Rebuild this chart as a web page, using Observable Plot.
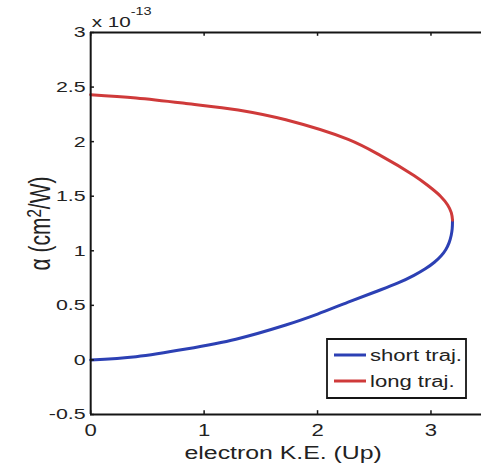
<!DOCTYPE html>
<html>
<head>
<meta charset="utf-8">
<script src="https://cdn.jsdelivr.net/npm/d3@7"></script>
<script src="https://cdn.jsdelivr.net/npm/@observablehq/plot@0.6"></script>
<style>
  html, body { margin: 0; padding: 0; background: #fff; }
  #chart { width: 481px; height: 474px; overflow: hidden; }
  #chart svg path, #chart svg line, #chart svg rect { vector-effect: non-scaling-stroke; }
</style>
</head>
<body>
<div id="chart"></div>
<script>
// Ionization-phase coefficient alpha (x 1e-13 cm^2/W) vs. electron kinetic energy (Up)
const shortKE    = [0, 0.40, 0.84, 1.28, 1.72, 2.00, 2.27, 2.50, 2.71, 2.85, 2.95, 3.03, 3.09, 3.13, 3.16, 3.178, 3.187, 3.19];
const shortAlpha = [0, 0.03, 0.10, 0.19, 0.32, 0.42, 0.53, 0.62, 0.705, 0.775, 0.835, 0.895, 0.955, 1.01, 1.075, 1.14, 1.20, 1.28];
const longKE     = [3.19, 3.179, 3.147, 3.084, 2.97, 2.85, 2.56, 2.27, 1.72, 1.30, 0.84, 0.40, 0];
const longAlpha  = [1.28, 1.35, 1.42, 1.50, 1.60, 1.69, 1.87, 2.02, 2.20, 2.29, 2.35, 2.40, 2.43];

const xTicks = [0, 1, 2, 3];
const yTicks = [-0.5, 0, 0.5, 1, 1.5, 2, 2.5, 3];
const seriesNames = ["short traj.", "long traj."];
const seriesColors = ["#2c40b4", "#cf3a3a"];
const xLabel = "electron K.E. (Up)";
const yLabelParts = ["α (cm", "2", "/W)"];
const exponentBase = "x 10";
const exponent = "-13";

// The figure is drawn narrow and then stretched horizontally.
const S = 1.38, W = 481, H = 474;
const w0 = W / S;
const px = v => v / S;

const shortData = shortKE.map((x, i) => ({x, y: shortAlpha[i]}));
const longData = longKE.map((x, i) => ({x, y: longAlpha[i]}));

const ink = "#151515";
const xLo = 0, xHi = 3.5, yLo = -0.5, yHi = 3;

const frameCenter = (px(90) + w0) / 2;

const chart = Plot.plot({
  width: w0,
  height: H,
  marginLeft: px(90),
  marginRight: 0,
  marginTop: 32,
  marginBottom: 60,
  x: {domain: [xLo, xHi], range: [px(90), px(487)]},
  y: {domain: [yLo, yHi]},
  style: {fontFamily: "'Liberation Sans', Arial, sans-serif", fontSize: "16px", color: "#222", background: "#fff"},
  marks: [
    // curves
    Plot.line(shortData, {x: "x", y: "y", stroke: seriesColors[0], strokeWidth: 3, curve: "catmull-rom"}),
    Plot.line(longData, {x: "x", y: "y", stroke: seriesColors[1], strokeWidth: 3, curve: "catmull-rom"}),
    // box
    Plot.ruleY([yHi], {x1: xLo, x2: xHi, stroke: ink, strokeWidth: 2}),
    Plot.ruleY([yLo], {x1: xLo, x2: xHi, stroke: ink, strokeWidth: 2}),
    Plot.ruleX([xLo], {y1: yLo, y2: yHi, stroke: ink, strokeWidth: 2}),
    // inward tick marks
    Plot.ruleX(xTicks, {y1: yLo, y2: yLo + 0.035, stroke: ink, strokeWidth: 1.5}),
    Plot.ruleX(xTicks, {y1: yHi, y2: yHi - 0.035, stroke: ink, strokeWidth: 1.5}),
    Plot.ruleY(yTicks, {x1: xLo, x2: xLo + 0.035, stroke: ink, strokeWidth: 1.5}),
    // tick labels
    Plot.axisX({ticks: xTicks, tickSize: 0, tickPadding: 10, tickFormat: d => String(d), label: null, fontSize: 16}),
    Plot.axisY({ticks: yTicks, tickSize: 0, tickPadding: px(5), tickFormat: d => String(d), label: null, fontSize: 15.5}),
    // titles
    Plot.text([xLabel], {frameAnchor: "bottom", textAnchor: "middle", dy: 44, dx: px(282.5) - frameCenter, fontSize: 18, fill: "#222"}),
    Plot.text([yLabelParts.join("")], {frameAnchor: "left", textAnchor: "middle", rotate: -90, dx: px(40) - px(90), dy: 0, fontSize: 21, fill: "#222", className: "ytitle"}),
    Plot.text([exponentBase], {frameAnchor: "top-left", textAnchor: "start", lineAnchor: "bottom", dx: px(91) - px(90), dy: 26 - 32, fontSize: 15, fill: "#222"}),
    Plot.text([exponent], {frameAnchor: "top-left", textAnchor: "start", lineAnchor: "bottom", dx: px(130) - px(90), dy: 14 - 32, fontSize: 10.5, fill: "#222"})
  ]
});

// stretch horizontally
chart.setAttribute("viewBox", `0 0 ${w0} ${H}`);
chart.setAttribute("width", W);
chart.setAttribute("height", H);
chart.setAttribute("preserveAspectRatio", "none");
chart.style.width = W + "px";
chart.style.height = H + "px";
chart.style.maxWidth = "none";

const svg = d3.select(chart);

// y title with a raised exponent
const yt = svg.select(".ytitle text");
if (!yt.empty()) {
  yt.text(null);
  yt.append("tspan").text(yLabelParts[0]);
  yt.append("tspan").attr("dy", "-0.45em").attr("font-size", "0.72em").text(yLabelParts[1]);
  yt.append("tspan").attr("dy", "0.32em").text(yLabelParts[2]);
}

// legend box
const lg = svg.append("g").attr("class", "legend").attr("text-anchor", "start");
const bx = px(327), by = 339, bw = px(466) - px(327), bh = 59;
lg.append("rect").attr("x", bx).attr("y", by).attr("width", bw).attr("height", bh)
  .attr("fill", "#fff").attr("stroke", ink).attr("stroke-width", 1.8);
seriesNames.forEach((name, i) => {
  const yy = by + 16 + i * 26;
  lg.append("line").attr("x1", px(334)).attr("x2", px(366)).attr("y1", yy).attr("y2", yy)
    .attr("stroke", seriesColors[i]).attr("stroke-width", 3);
  lg.append("text").attr("x", px(370)).attr("y", yy).attr("dy", "0.35em")
    .attr("text-anchor", "start").attr("font-size", 16).attr("fill", "#222").text(name);
});

document.getElementById("chart").appendChild(chart);
</script>
</body>
</html>
